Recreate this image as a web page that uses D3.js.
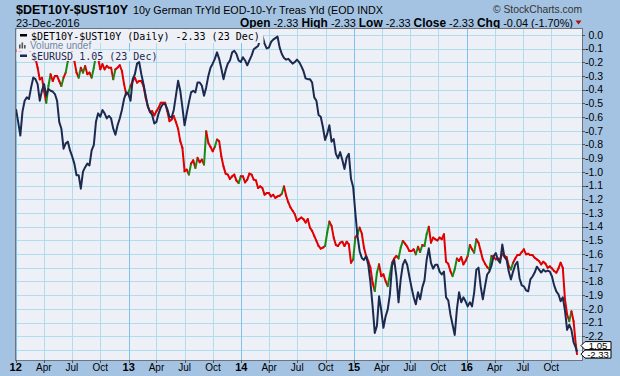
<!DOCTYPE html>
<html>
<head>
<meta charset="utf-8">
<script src="https://cdn.jsdelivr.net/npm/d3@7"></script>
<style>
html, body { margin: 0; padding: 0; background: #a4c3e2; }
svg { display: block; font-family: "Liberation Sans", Arial, sans-serif; }
</style>
</head>
<body>
<svg id="chart" width="620" height="376"></svg>
<script>
// weekly closes, first week starts 2012-01-02, plus the last close
const weekStart = "2012-01-02";
const lastDate = "2016-12-23";

const spreadWeekly = [
  -0.12,-0.10,-0.13,-0.09,-0.08,-0.11,-0.10,-0.14,-0.16,-0.17,
  -0.24,-0.325,-0.313,-0.41,-0.496,-0.374,-0.288,-0.337,-0.30,-0.30,
  -0.337,-0.374,-0.313,-0.276,-0.19,-0.15,-0.12,-0.19,-0.276,-0.313,
  -0.24,-0.276,-0.227,-0.288,-0.276,-0.313,-0.24,-0.15,-0.17,-0.252,
  -0.215,-0.252,-0.227,-0.24,-0.24,-0.325,-0.252,-0.24,-0.222,-0.264,
  -0.36,-0.435,-0.422,-0.374,-0.337,-0.313,-0.349,-0.337,-0.337,-0.374,
  -0.459,-0.52,-0.564,-0.557,-0.588,-0.557,-0.532,-0.496,-0.496,-0.496,
  -0.557,-0.63,-0.618,-0.593,-0.637,-0.686,-0.776,-0.825,-0.996,
  -0.984,-1.02,-0.94,-0.916,-0.972,-0.898,-0.93,-0.911,-0.947,-0.703,
  -0.789,-0.818,-0.85,-0.818,-0.764,-0.776,-0.886,-0.96,-1.013,-1.02,
  -1.052,-1.033,-1.02,-1.064,-1.082,-1.033,-1.033,-1.077,-1.057,-1.013,
  -1.02,-1.057,-1.062,-1.118,-1.106,-1.118,-1.167,-1.155,-1.155,-1.179,
  -1.167,-1.19,-1.179,-1.174,-1.16,-1.106,-1.174,-1.223,-1.26,-1.284,
  -1.309,-1.358,-1.345,-1.333,-1.345,-1.37,-1.345,-1.407,-1.431,-1.468,
  -1.504,-1.541,-1.56,-1.553,-1.541,-1.443,-1.363,-1.394,-1.48,-1.534,
  -1.541,-1.517,-1.51,-1.541,-1.51,-1.529,-1.663,-1.639,-1.48,-1.455,
  -1.407,-1.45,-1.553,-1.614,-1.651,-1.7,-1.81,-1.87,-1.736,-1.675,
  -1.761,-1.748,-1.797,-1.834,-1.748,-1.663,-1.632,-1.614,-1.632,-1.553,
  -1.504,-1.524,-1.546,-1.578,-1.578,-1.565,-1.602,-1.546,-1.585,-1.534,
  -1.541,-1.455,-1.401,-1.517,-1.48,-1.492,-1.5,-1.48,-1.492,-1.455,
  -1.656,-1.67,-1.724,-1.761,-1.712,-1.632,-1.651,-1.622,-1.675,
  -1.651,-1.614,-1.534,-1.565,-1.59,-1.492,-1.517,-1.578,-1.639,-1.67,
  -1.695,-1.712,-1.614,-1.622,-1.639,-1.632,-1.639,-1.598,-1.614,-1.622,
  -1.688,-1.712,-1.663,-1.632,-1.607,-1.607,-1.585,-1.565,-1.602,-1.598,
  -1.607,-1.607,-1.627,-1.639,-1.651,-1.675,-1.656,-1.67,-1.7,-1.69,
  -1.705,-1.724,-1.736,-1.705,-1.663,-1.70,-1.931,-2.041,-2.09,-2.017,
  -2.09,-2.261
];
const spreadLast = -2.33;

const eurusdWeekly = [
  1.303,1.288,1.272,1.300,1.313,1.317,1.315,1.329,1.341,1.339,
  1.333,1.313,1.325,1.333,1.319,1.327,1.325,1.324,1.321,1.313,
  1.288,1.280,1.257,1.263,1.265,1.255,1.248,1.240,1.227,1.227,
  1.212,1.231,1.236,1.240,1.238,1.255,1.261,1.288,1.298,1.294,
  1.302,1.298,1.292,1.295,1.292,1.280,1.273,1.284,1.292,1.302,
  1.315,1.323,1.321,1.313,1.339,1.345,1.358,1.360,1.345,1.333,
  1.319,1.306,1.300,1.296,1.286,1.288,1.298,1.305,1.309,1.309,
  1.303,1.294,1.293,1.302,1.319,1.337,1.325,1.305,1.284,
  1.298,1.311,1.323,1.325,1.323,1.335,1.335,1.331,1.319,1.329,
  1.343,1.353,1.358,1.364,1.372,1.364,1.352,1.339,1.350,1.358,
  1.362,1.372,1.374,1.370,1.362,1.360,1.366,1.362,1.356,1.362,
  1.368,1.376,1.378,1.380,1.388,1.393,1.383,1.377,1.378,1.385,
  1.388,1.390,1.392,1.378,1.370,1.365,1.363,1.364,1.361,1.358,
  1.360,1.363,1.360,1.355,1.349,1.340,1.339,1.339,1.335,1.317,
  1.313,1.296,1.294,1.282,1.267,1.274,1.284,1.265,1.268,1.251,
  1.246,1.253,1.244,1.234,1.247,1.251,1.223,1.214,1.186,1.161,
  1.145,1.138,1.136,1.140,1.131,1.113,1.089,1.063,1.070,1.099,
  1.085,1.068,1.079,1.086,1.101,1.130,1.136,1.119,1.093,1.116,
  1.131,1.136,1.131,1.119,1.108,1.098,1.091,1.103,1.096,1.108,
  1.115,1.136,1.148,1.133,1.127,1.131,1.131,1.124,1.121,1.124,
  1.098,1.095,1.081,1.071,1.061,1.086,1.103,1.093,1.098,
  1.094,1.089,1.093,1.089,1.103,1.126,1.128,1.109,1.096,1.109,
  1.121,1.124,1.130,1.140,1.143,1.136,1.133,1.152,1.139,1.136,
  1.124,1.116,1.124,1.131,1.134,1.117,1.110,1.109,1.105,1.104,
  1.116,1.119,1.123,1.129,1.126,1.123,1.126,1.124,1.125,1.124,
  1.119,1.110,1.104,1.101,1.094,1.098,1.085,1.066,1.071,1.066,
  1.054,1.049
];
const eurusdLast = 1.045;

const yTickLabels = ["0.0","-0.1","-0.2","-0.3","-0.4","-0.5","-0.6","-0.7","-0.8","-0.9","-1.0",
  "-1.1","-1.2","-1.3","-1.4","-1.5","-1.6","-1.7","-1.8","-1.9","-2.0","-2.1","-2.2"];
const yGridValues = yTickLabels.map(Number).concat([-2.3]);

const svg = d3.select("#chart");
const plot = {left: 16, top: 29, right: 582, bottom: 360};
const pw = plot.right - plot.left, ph = plot.bottom - plot.top;

const parse = d3.utcParse("%Y-%m-%d");
const t0 = parse(weekStart), t1 = parse(lastDate);
const dates = spreadWeekly.map((_, i) => d3.utcDay.offset(t0, i * 7)).concat([t1]);
const spread = spreadWeekly.concat([spreadLast]).map((v, i) => ({date: dates[i], v}));
const eur = eurusdWeekly.concat([eurusdLast]).map((v, i) => ({date: dates[i], v}));

const x = d3.scaleUtc().domain([t0, t1]).range([0, 561]);
const y = d3.scaleLinear().domain([0, -2.3]).range([5.8, 321]);
// overlay is on its own log scale
const y2 = d3.scaleLog().domain([1.045, 1.393]).range([322.7, 6.7]);

// header
svg.append("text").attr("x", 16).attr("y", 14)
    .attr("font-size", 13).attr("font-weight", "bold")
    .attr("textLength", 112).attr("lengthAdjust", "spacingAndGlyphs")
    .text("$DET10Y-$UST10Y");
svg.append("text").attr("x", 133).attr("y", 14)
    .attr("font-size", 11).attr("textLength", 250).attr("lengthAdjust", "spacingAndGlyphs")
    .text("10y German TrYld EOD-10-Yr Treas Yld (EOD  INDX");
svg.append("text").attr("x", 493).attr("y", 13)
    .attr("font-size", 10.5).attr("fill", "#333")
    .attr("textLength", 89).attr("lengthAdjust", "spacingAndGlyphs")
    .text("\u00A9 StockCharts.com");
svg.append("text").attr("x", 16).attr("y", 26.5)
    .attr("font-size", 11).text("23-Dec-2016");

const quote = svg.append("text").attr("x", 240).attr("y", 26.5)
    .attr("font-size", 11).attr("textLength", 333).attr("lengthAdjust", "spacingAndGlyphs");
[["Open", " -2.33  "], ["High", " -2.33  "], ["Low", " -2.33  "], ["Close", " -2.33  "], ["Chg", " -0.04 (-1.70%)"]]
    .forEach(([k, v]) => {
        quote.append("tspan").attr("font-weight", "bold").attr("font-size", 12).text(k);
        quote.append("tspan").text(v);
    });
svg.append("path").attr("d", "M575.5,20.5 L581.5,20.5 L578.5,24.5 Z").attr("fill", "#b01010");

// plot area
const g = svg.append("g").attr("transform", `translate(${plot.left},${plot.top})`);
g.append("rect").attr("width", pw).attr("height", ph).attr("fill", "#eef0f8");

g.append("clipPath").attr("id", "clip")
    .append("rect").attr("width", pw).attr("height", ph);

const quarters = d3.utcMonth.every(3).range(parse("2012-01-01"), parse("2017-01-01"));

g.selectAll(".hgrid")
    .data(yGridValues)
    .enter().append("line")
    .attr("x1", 0).attr("x2", pw)
    .attr("y1", d => Math.round(y(d)) + 0.5)
    .attr("y2", d => Math.round(y(d)) + 0.5)
    .attr("stroke", "#b0dcec").attr("stroke-width", 1);

g.selectAll(".vgrid")
    .data(quarters)
    .enter().append("line")
    .attr("x1", d => Math.round(x(d)) + 0.5)
    .attr("x2", d => Math.round(x(d)) + 0.5)
    .attr("y1", 0).attr("y2", ph)
    .attr("stroke", d => d.getUTCMonth() === 0 ? "#7cc2ea" : "#b0dcec")
    .attr("stroke-width", 1);

const lines = g.append("g").attr("clip-path", "url(#clip)");

// spread: red when falling, green on the bigger up moves
const segs = d3.pairs(spread);
const segLine = p => `M${x(p[0].date)},${y(p[0].v)}L${x(p[1].date)},${y(p[1].v)}`;
lines.selectAll(".seg")
    .data(segs)
    .enter().append("path")
    .attr("d", segLine)
    .attr("fill", "none")
    .attr("stroke-width", 2)
    .attr("stroke-linecap", "round")
    .attr("stroke", p => p[1].v - p[0].v > 0.045 ? "#168a16" : "#e00000");

lines.append("path")
    .datum(eur)
    .attr("fill", "none")
    .attr("stroke", "#1b2a4e")
    .attr("stroke-width", 2)
    .attr("stroke-linejoin", "round")
    .attr("d", d3.line().x(d => x(d.date)).y(d => y2(d.v)));

// legend rows cover the lines behind them
const legRows = [
    {w: 247, h: 13.5, y: 0},
    {w: 77, h: 8.5, y: 13.5},
    {w: 122, h: 9.5, y: 22}
];
g.selectAll(".legbg")
    .data(legRows)
    .enter().append("rect")
    .attr("x", 0.5).attr("y", d => d.y + 0.5)
    .attr("width", d => d.w).attr("height", d => d.h)
    .attr("fill", "#eef0f8");

g.append("rect").attr("x", 4).attr("y", 5).attr("width", 7).attr("height", 2.5).attr("fill", "#000");
g.append("text").attr("x", 15).attr("y", 10.5)
    .attr("font-family", "'DejaVu Sans Mono', monospace").attr("font-size", 10)
    .text("$DET10Y-$UST10Y (Daily) -2.33 (23 Dec)");

[[3, 4], [5.5, 6], [8, 3.5]].forEach(([bx, bh]) => {
    g.append("rect").attr("x", bx).attr("y", 19.5 - bh).attr("width", 1.6).attr("height", bh).attr("fill", "#555");
});
g.append("text").attr("x", 14).attr("y", 19.5)
    .attr("font-size", 10).attr("fill", "#72889f")
    .text("Volume undef");

g.append("rect").attr("x", 4).attr("y", 25.5).attr("width", 7).attr("height", 2.5).attr("fill", "#1b2a4e");
g.append("text").attr("x", 15).attr("y", 30.5)
    .attr("font-family", "'DejaVu Sans Mono', monospace").attr("font-size", 10)
    .attr("fill", "#1b2a4e")
    .text("$EURUSD 1.05 (23 Dec)");

// frame
g.append("rect").attr("x", -0.5).attr("y", -0.5).attr("width", pw + 1).attr("height", ph + 1)
    .attr("fill", "none").attr("stroke", "#6f737c").attr("stroke-width", 1);

// right axis
const ax = svg.append("g").attr("transform", `translate(${plot.right},${plot.top})`);
ax.selectAll(".tick")
    .data(yTickLabels)
    .enter().append("line")
    .attr("x1", 0).attr("x2", 3)
    .attr("y1", d => Math.round(y(+d)) + 0.5)
    .attr("y2", d => Math.round(y(+d)) + 0.5)
    .attr("stroke", "#555");
ax.selectAll(".lbl")
    .data(yTickLabels)
    .enter().append("text")
    .attr("x", 21).attr("y", d => y(+d) + 3.8)
    .attr("text-anchor", "end")
    .attr("font-size", 10.5)
    .text(d => d);

// bottom axis
const bx = svg.append("g").attr("transform", `translate(${plot.left},${plot.bottom})`);
bx.selectAll(".tick")
    .data(quarters)
    .enter().append("line")
    .attr("x1", d => Math.round(x(d)) + 0.5)
    .attr("x2", d => Math.round(x(d)) + 0.5)
    .attr("y1", 0).attr("y2", 3)
    .attr("stroke", "#555");
bx.selectAll(".lbl")
    .data(quarters)
    .enter().append("text")
    .attr("x", d => x(d))
    .attr("y", 11)
    .attr("text-anchor", "middle")
    .attr("font-size", d => d.getUTCMonth() === 0 ? 11 : 10)
    .attr("font-weight", d => d.getUTCMonth() === 0 ? "bold" : "normal")
    .text(d => d.getUTCMonth() === 0 ? d3.utcFormat("%y")(d) : d3.utcFormat("%b")(d));

// end-of-line tags
function tag(cy, label, color) {
    const lx = plot.right - 1, t = svg.append("g");
    t.append("path")
        .attr("d", `M${lx},${cy} L${lx + 4},${cy - 4} L${lx + 30},${cy - 4} L${lx + 30},${cy + 4} L${lx + 4},${cy + 4} Z`)
        .attr("fill", "#fff").attr("stroke", "#000").attr("stroke-width", 1);
    t.append("text").attr("x", lx + 17).attr("y", cy + 3.5)
        .attr("text-anchor", "middle").attr("font-size", 9.5).attr("fill", color)
        .text(label);
}
const ySpreadEnd = plot.top + y(spreadLast);
tag(ySpreadEnd - 8.5, "1.05", "#000");
tag(ySpreadEnd, "-2.33", "#000");
</script>
</body>
</html>
